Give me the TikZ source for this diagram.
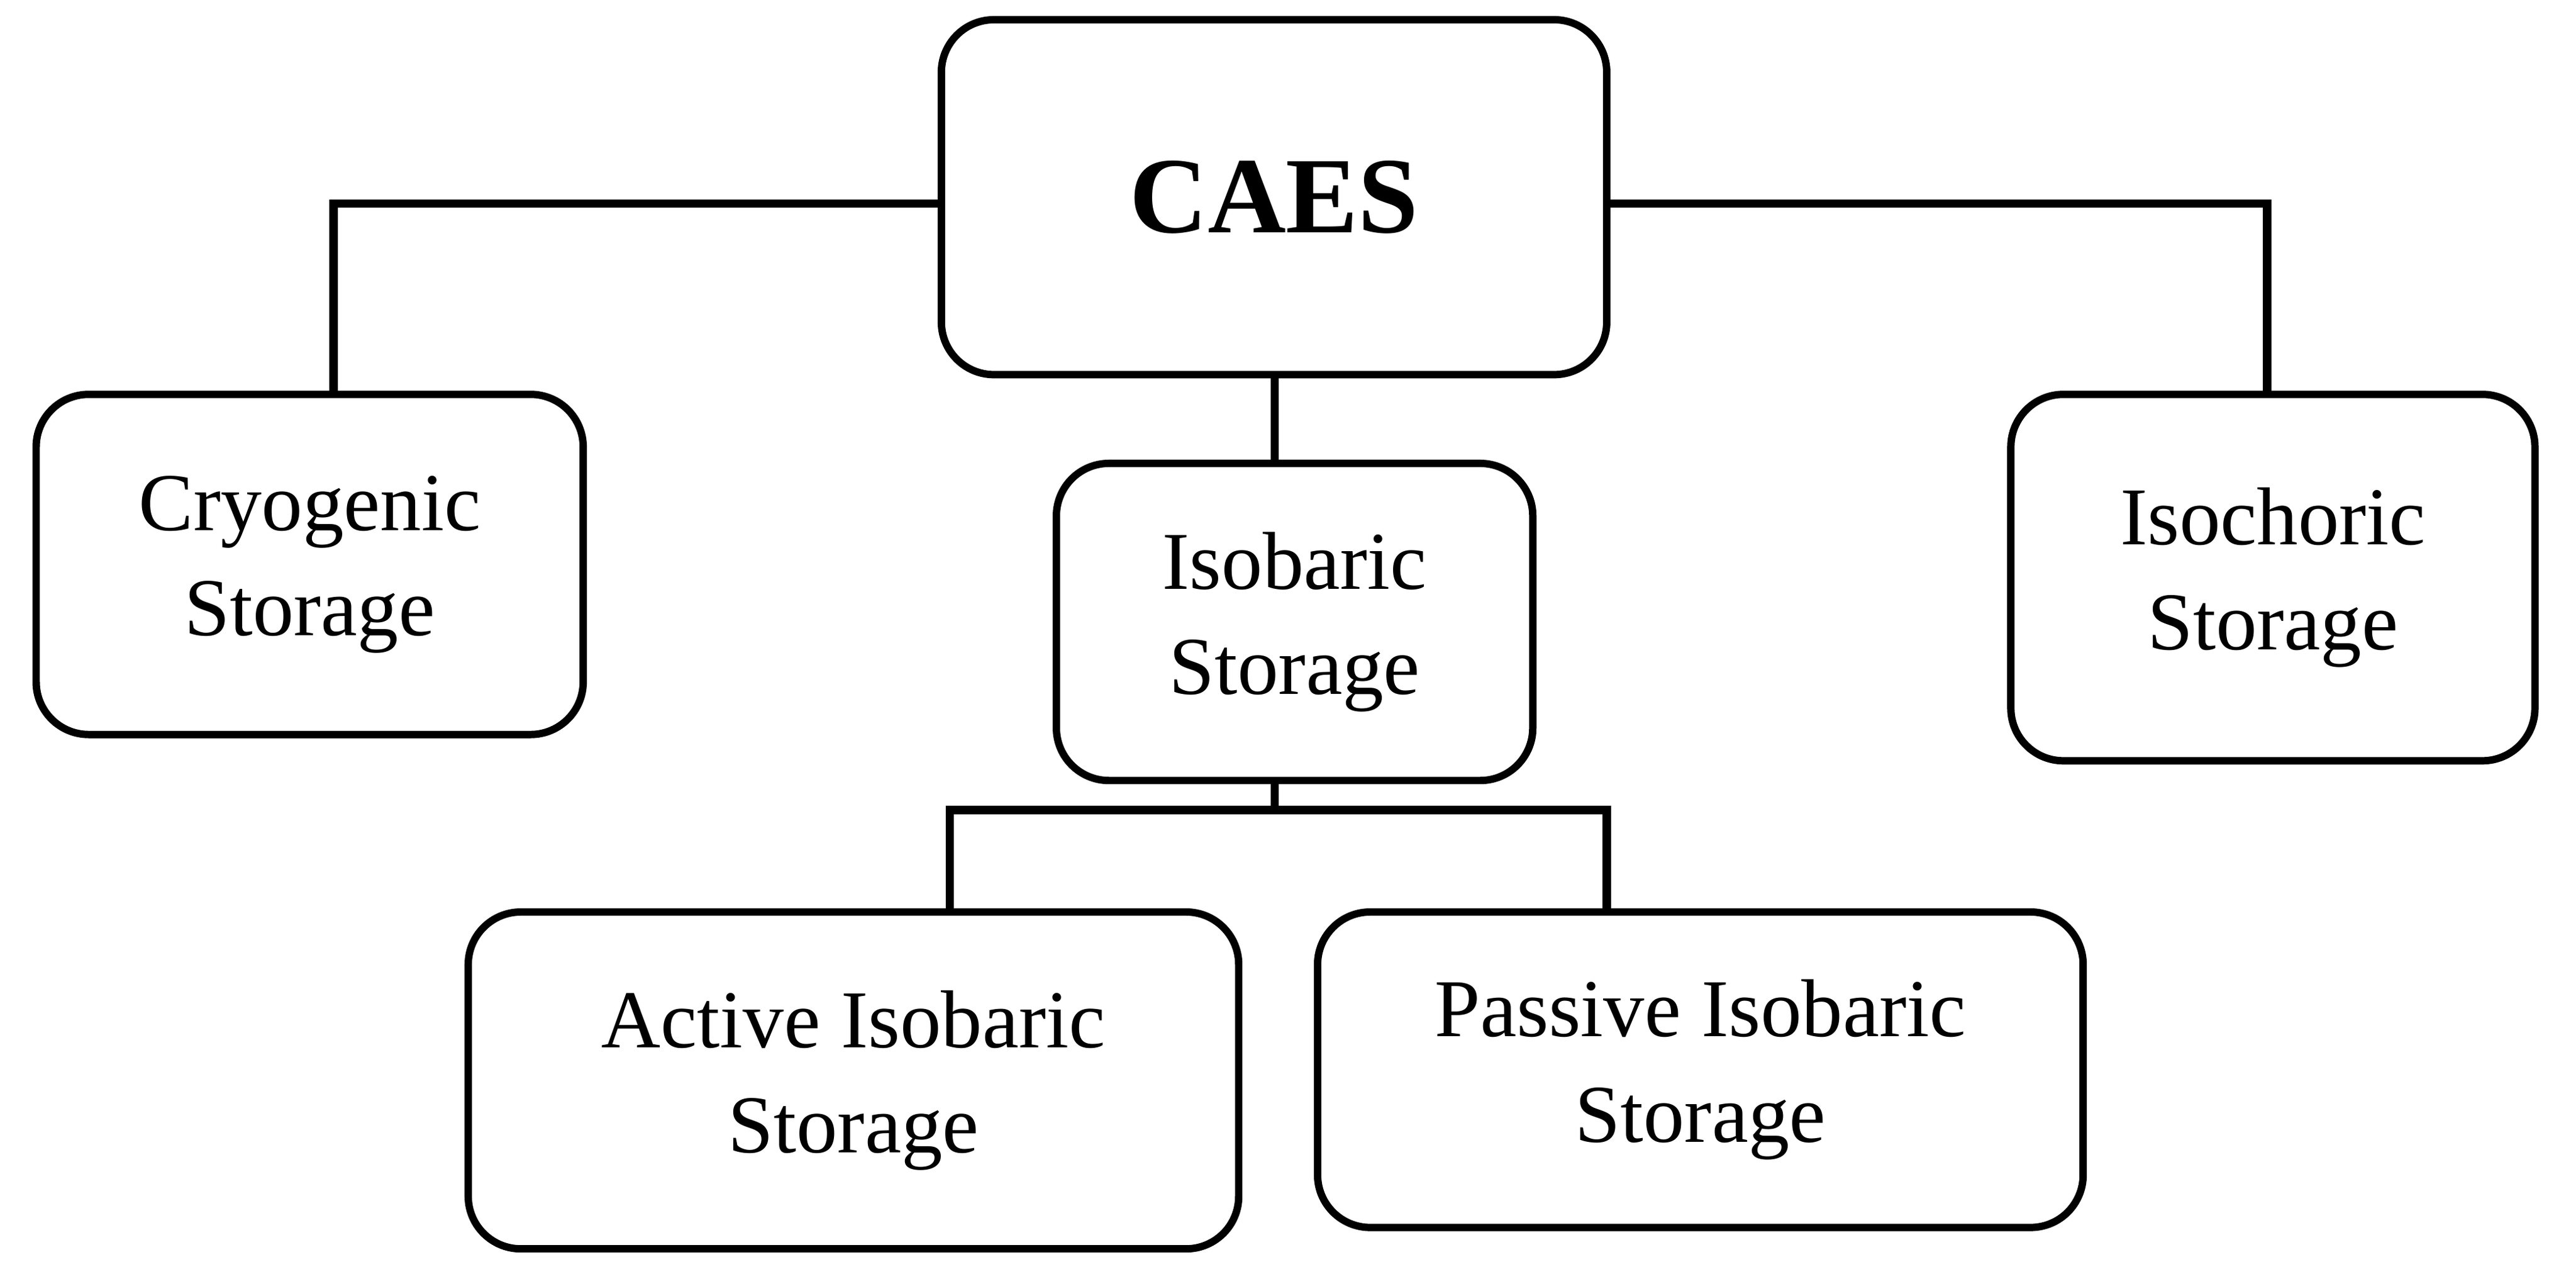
\documentclass[tikz,border=0pt]{standalone}
\usepackage{fontspec}
\setmainfont{Liberation Serif}
\begin{document}
\begin{tikzpicture}[x=1pt,y=-1pt,
 box/.style={draw,line width=4.5pt,rounded corners=32pt,align=center,font=\fontsize{50}{64}\selectfont},
 ln/.style={line width=5pt}]
\useasboundingbox (0,0) rectangle (1568,778);
\node[box,minimum width=405pt,minimum height=216pt,font=\fontsize{66}{70}\selectfont\bfseries] (caes) at (775.5,120) {CAES};
\node[box,minimum width=333pt,minimum height=207pt] (cryo) at (188.5,343.5) {Cryogenic\\Storage};
\node[box,minimum width=290pt,minimum height=193pt] (isob) at (788,378.5) {Isobaric\\Storage};
\node[box,minimum width=319pt,minimum height=223pt] (isoc) at (1383.5,351.5) {Isochoric\\Storage};
\node[box,minimum width=469pt,minimum height=205pt] (act) at (519.5,657.5) {Active Isobaric\\Storage};
\node[box,minimum width=466pt,minimum height=192pt] (pas) at (1035,651) {Passive Isobaric\\Storage};
\coordinate (j) at (776,493);
\draw[ln] (caes.west|-0,124) -| (203,240);
\draw[ln] (caes.east|-0,124) -| (1380,240);
\draw[ln] (776,228) -- (776,282);
\draw[ln] (776,475) -- (j);
\draw[ln] (578,555) |- (978,493) -- (978,555);
\end{tikzpicture}
\end{document}
